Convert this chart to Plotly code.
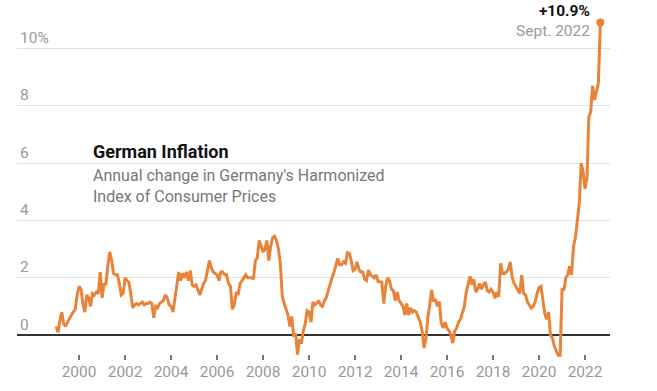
import pandas as pd
import plotly.graph_objects as go

# Monthly annual change in German HICP (%), Jan 1999 - Sep 2022
y1999 = [0.3, 0.1, 0.5, 0.8, 0.4, 0.3, 0.45, 0.6, 0.7, 0.8, 0.9, 1.4]
y2000 = [1.7, 1.6, 1.1, 0.8, 1.4, 1.3, 1.0, 1.45, 1.4, 1.5, 1.45, 2.2]
y2001 = [1.3, 1.8, 1.75, 2.4, 2.9, 2.6, 2.15, 2.1, 2.1, 1.8, 1.4, 1.45]
y2002 = [2.0, 1.9, 1.85, 1.45, 0.95, 1.05, 1.1, 1.05, 1.1, 1.15, 1.05, 1.1]
y2003 = [1.1, 1.15, 1.1, 0.6, 1.0, 0.95, 1.1, 1.15, 1.2, 1.4, 1.3, 1.05]
y2004 = [1.0, 0.8, 1.3, 1.8, 2.2, 1.9, 2.15, 2.0, 2.2, 1.9, 2.25, 1.75]
y2005 = [1.7, 1.75, 1.6, 1.4, 1.6, 1.8, 1.9, 2.2, 2.6, 2.35, 2.2, 2.15]
y2006 = [2.1, 1.9, 2.2, 2.2, 2.1, 2.1, 1.8, 1.7, 0.9, 1.05, 1.5, 1.4]
y2007 = [1.8, 1.9, 2.0, 2.1, 2.0, 2.0, 2.0, 1.95, 2.6, 2.7, 3.3, 3.1]
y2008 = [2.9, 3.0, 3.3, 2.6, 3.1, 3.4, 3.45, 3.3, 3.0, 2.5, 1.35, 1.1]
y2009 = [0.9, 0.7, 0.3, 0.65, -0.05, 0.05, -0.68, -0.15, -0.3, 0.15, 0.4, 0.85]
y2010 = [0.8, 0.45, 1.15, 1.05, 1.1, 1.2, 1.05, 1.0, 1.2, 1.3, 1.55, 1.8]
y2011 = [2.0, 2.2, 2.4, 2.67, 2.45, 2.45, 2.55, 2.5, 2.87, 2.85, 2.6, 2.25]
y2012 = [2.3, 2.55, 2.3, 2.2, 2.2, 1.95, 1.9, 2.27, 2.1, 2.05, 2.0, 2.1]
y2013 = [1.86, 1.86, 1.85, 1.1, 1.7, 2.0, 1.9, 1.6, 1.55, 1.2, 1.5, 1.2]
y2014 = [1.1, 1.0, 0.7, 1.1, 0.7, 0.95, 0.8, 0.85, 0.8, 0.6, 0.45, 0.15]
y2015 = [-0.45, -0.1, 0.6, 1.05, 1.57, 1.17, 1.25, 1.0, 1.17, 0.42, 0.25, 0.45]
y2016 = [0.24, 0.15, 0.0, -0.28, 0.13, 0.25, 0.45, 0.55, 0.75, 1.0, 1.5, 1.75]
y2017 = [2.05, 1.75, 1.95, 1.5, 1.6, 1.8, 1.6, 1.75, 1.85, 1.55, 1.5, 1.6]
y2018 = [1.5, 1.28, 1.5, 1.34, 2.5, 2.15, 2.15, 2.2, 2.3, 2.55, 2.0, 1.8]
y2019 = [1.69, 1.57, 1.45, 2.1, 1.45, 1.4, 1.15, 1.05, 0.94, 1.0, 1.17, 1.45]
y2020 = [1.65, 1.7, 1.2, 0.75, 0.55, 0.8, 0.0, -0.1, -0.4, -0.55, -0.7, -0.7]
y2021 = [1.6, 1.6, 2.0, 2.1, 2.4, 2.1, 3.1, 3.4, 4.1, 4.6, 6.0, 5.7]
y2022 = [5.1, 5.5, 7.6, 7.8, 8.7, 8.2, 8.5, 8.8, 10.9]

start_month = "1999-01-01"
y_tick_vals = [0, 2, 4, 6, 8, 10]
y_tick_text = ["0", "2", "4", "6", "8", "10%"]
last_label = "+10.9%"
last_date_label = "Sept. 2022"

values = (y1999 + y2000 + y2001 + y2002 + y2003 + y2004 + y2005 + y2006 + y2007
          + y2008 + y2009 + y2010 + y2011 + y2012 + y2013 + y2014 + y2015 + y2016
          + y2017 + y2018 + y2019 + y2020 + y2021 + y2022)
dates = pd.date_range(start_month, periods=len(values), freq="MS")

ORANGE = "#e8843a"
FONT = "Roboto"

fig = go.Figure()
fig.add_trace(go.Scatter(x=dates, y=values, mode="lines",
                         line=dict(color=ORANGE, width=3), hoverinfo="skip"))
fig.add_trace(go.Scatter(x=[dates[-1]], y=[values[-1]], mode="markers",
                         marker=dict(color=ORANGE, size=8), cliponaxis=False,
                         hoverinfo="skip"))

fig.update_layout(
    width=657, height=391,
    margin=dict(l=17, r=47, t=14, b=31, autoexpand=False),
    paper_bgcolor="white", plot_bgcolor="white",
    showlegend=False,
    font=dict(family=FONT, color="#999999", size=15.5),
    xaxis=dict(
        type="date",
        range=["1997-04-20", "2023-02-01"],
        tick0="2000-01-01", dtick="M24", tickformat="%Y",
        showgrid=False, zeroline=False, showline=False,
        ticks="inside", ticklen=5, tickwidth=1.5, tickcolor="#777777",
        tickfont=dict(family=FONT, size=15.5, color="#999999"),
        automargin=False, fixedrange=True,
    ),
    yaxis=dict(
        range=[-0.87, 11.2],
        tickvals=y_tick_vals, ticktext=y_tick_text,
        ticklabelposition="inside top",
        showgrid=True, gridcolor="#e2e2e2", gridwidth=1,
        zeroline=True, zerolinecolor="#333333", zerolinewidth=1.5,
        showline=False, ticks="",
        tickfont=dict(family=FONT, size=15.5, color="#9a9a9a"),
        automargin=False, fixedrange=True,
    ),
)

fig.add_annotation(
    xref="paper", yref="y", x=0.1248, y=6.39, xanchor="left", yanchor="middle",
    text="<b>German Inflation</b>", showarrow=False,
    font=dict(family=FONT, size=18, color="#121212"),
)
fig.add_annotation(
    xref="paper", yref="y", x=0.1248, y=5.2, xanchor="left", yanchor="middle",
    align="left",
    text="Annual change in Germany's Harmonized<br>Index of Consumer Prices",
    showarrow=False,
    font=dict(family=FONT, size=16, color="#777777"),
)
fig.add_annotation(
    x=dates[-1], y=values[-1], xref="x", yref="y",
    xanchor="right", yanchor="middle", xshift=-8, yshift=2, align="right",
    text=f"<b><span style='color:#121212'>{last_label}</span></b><br>{last_date_label}",
    showarrow=False,
    font=dict(family=FONT, size=15.5, color="#999999"),
)

# remove the page's default body margin so the figure fills the window exactly
fig.write_html(
    "out.html",
    config={"displayModeBar": False, "staticPlot": True},
    post_script="document.body.style.margin='0';document.body.style.padding='0';",
)
